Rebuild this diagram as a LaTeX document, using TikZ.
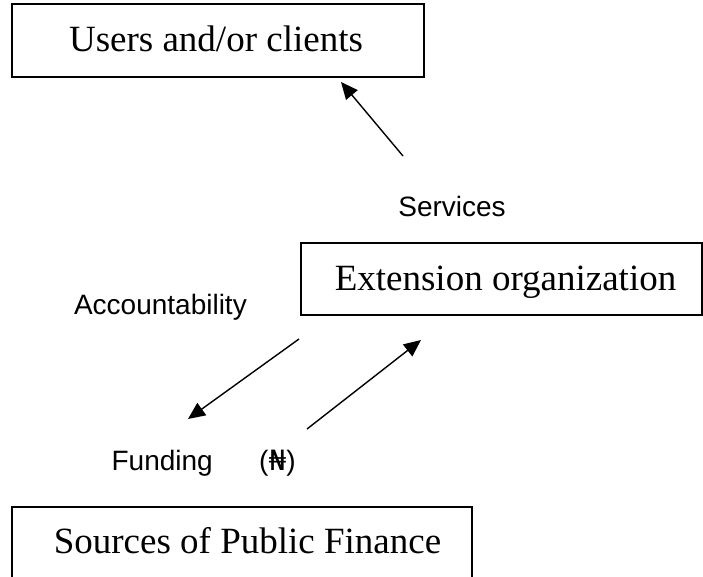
\documentclass[tikz,border=0pt]{standalone}
\usepackage{fontspec}
\setmainfont{Liberation Serif}
\newfontfamily\sansf{Liberation Sans}
\newfontfamily\symf{DejaVu Sans}
\usetikzlibrary{arrows.meta}
\tikzset{
  boxline/.style={draw=black, line width=1.8pt},
  boxlabel/.style={font=\fontsize{37}{44}\selectfont, inner sep=0pt, anchor=base},
  flowlabel/.style={font=\sansf\fontsize{28}{34}\selectfont, inner sep=0pt, anchor=base},
  flow/.style={line width=1.4pt, -{Triangle[length=17pt,width=15pt]}}
}
\begin{document}
\begin{tikzpicture}[x=1pt,y=-1pt]
\useasboundingbox (0,0) rectangle (703,577);
\clip (0,0) rectangle (703,577);
% boxes
\node[boxline, minimum width=412pt, minimum height=73pt, inner sep=0pt] (users) at (218,40.5) {};
\node[boxlabel] (userstext) at (216,52) {Users and/or clients};
\node[boxline, minimum width=401pt, minimum height=72pt, inner sep=0pt] (ext) at (501.5,279) {};
\node[boxlabel] (exttext) at (505.5,290) {Extension organization};
\coordinate (srcbl) at (12,600);
\coordinate (srctl) at (12,507);
\coordinate (srctr) at (472,507);
\coordinate (srcbr) at (472,600);
\draw[line width=1.8pt] (srcbl) -- (srctl) -- (srctr) -- (srcbr);
\node[boxlabel] (srctext) at (247.5,553) {Sources of Public Finance};
% labels
\node[flowlabel] (services) at (452,217) {Services};
\node[flowlabel, anchor=base east] (account) at (247,314) {Accountability};
\node[flowlabel, anchor=base east] (funding) at (213,470) {Funding};
\node[flowlabel, anchor=base west] (naira) at (259,470) {({\symf ₦})};
% arrows
\coordinate (s1) at (403,156);
\coordinate (s2) at (341,82);
\coordinate (a1) at (299,339);
\coordinate (a2) at (188,419);
\coordinate (f1) at (307,429);
\coordinate (f2) at (421,340);
\draw[flow] (s1) -- (s2);
\draw[flow] (a1) -- (a2);
\draw[flow] (f1) -- (f2);
\end{tikzpicture}
\end{document}
